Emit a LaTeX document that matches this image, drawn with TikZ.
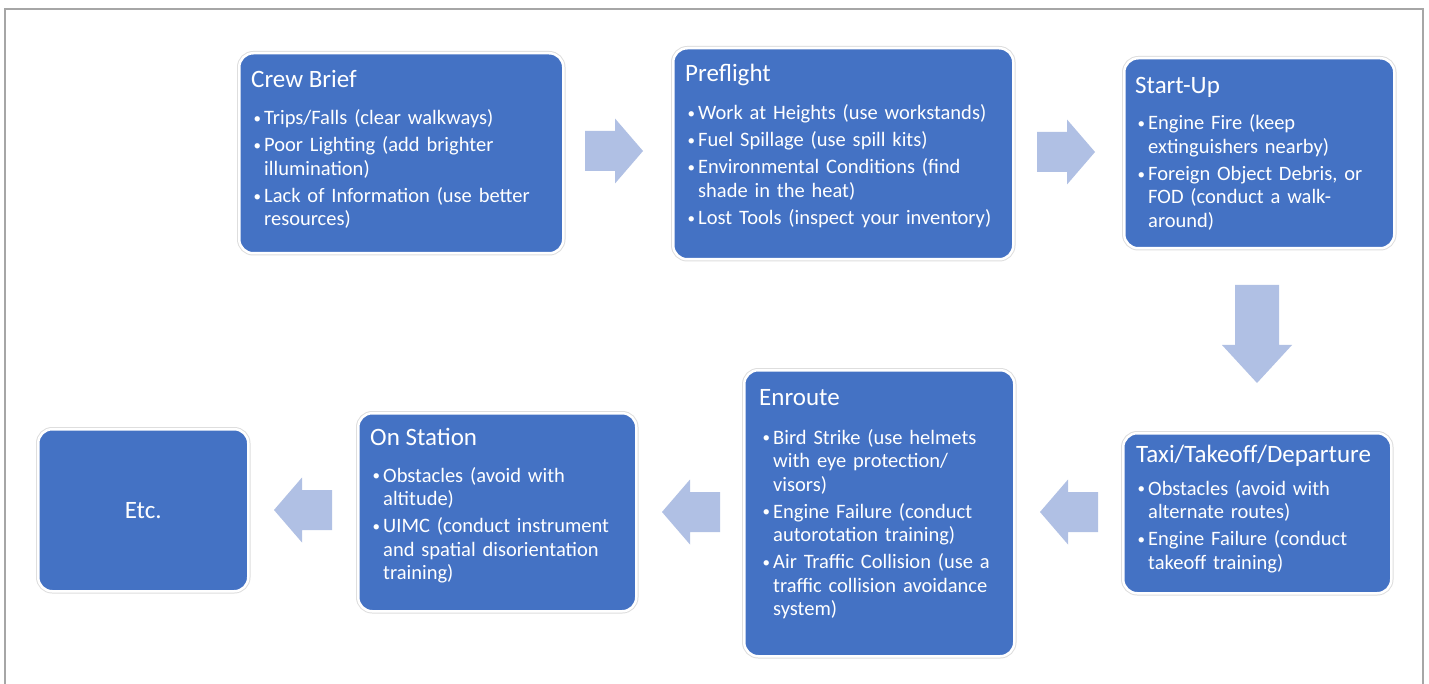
\documentclass[tikz,border=0pt]{standalone}
\usepackage{fontspec}
\setmainfont{Carlito}
\definecolor{boxblue}{HTML}{4472C4}
\definecolor{arrowfill}{HTML}{B0C0E4}
\definecolor{framegray}{HTML}{A6A6A6}
\newcommand\bul{\makebox[11pt][l]{\hspace{0.5pt}\raisebox{1.2pt}{\fontsize{15}{15}\selectfont •}}}
\newcommand\itm[1]{\bul#1}
\newcommand\cnt[1]{\hspace*{11pt}#1}
\begin{document}
\begin{tikzpicture}[x=1pt,y=-1pt,
  box/.style={rounded corners=14pt, fill=boxblue, draw=white, line width=2.5pt,
    preaction={draw=black!13, line width=4.5pt}, inner sep=0pt, anchor=north west},
  ttl/.style={text=white, font=\fontsize{25}{30}\selectfont, anchor=base west, inner sep=0pt},
  body/.style={text=white, font=\fontsize{20.5}{23.5}\selectfont, anchor=base west,
    inner sep=0pt, text width=340pt, align=left},
  blockarrow/.style={fill=arrowfill},
  rarr/.pic={\fill[blockarrow] (-29,-20) -- (1,-20) -- (1,-32.5) -- (29,0) -- (1,32.5) -- (1,20) -- (-29,20) -- cycle;}]
\useasboundingbox (0,0) rectangle (1429,684);
\fill[white] (0,0) rectangle (1429,684);
\draw[framegray, line width=1.5pt] (5,684) -- (5,9) -- (1423,9) -- (1423,684);

% boxes
\node[box, minimum width=324pt, minimum height=200pt] (cb) at (238,52) {};
\node[box, minimum width=340pt, minimum height=211pt] (pf) at (672,47) {};
\node[box, minimum width=270pt, minimum height=190pt] (su) at (1123,57) {};
\node[box, minimum width=268pt, minimum height=160pt] (tx) at (1122,432) {};
\node[box, minimum width=270pt, minimum height=286pt] (en) at (743,369) {};
\node[box, minimum width=278pt, minimum height=198pt] (os) at (357,412) {};
\node[box, minimum width=210pt, minimum height=162pt] (etc) at (37,428) {};

% titles
\node[ttl] (cbt) at (251,88) {Crew Brief};
\node[ttl] (pft) at (685,82) {Preflight};
\node[ttl] (sut) at (1135,94) {Start-Up};
\node[ttl] (txt) at (1136,462) {Taxi/Takeoff/Departure};
\node[ttl] (ent) at (759,405) {Enroute};
\node[ttl] (ost) at (370,445) {On Station};
\node[ttl, anchor=center] (etct) at (etc.center) {Etc.};

% bodies
\node[body] (cbb) at (253,125) {\itm{Trips/Falls (clear walkways)}\\[3.5pt]
  \itm{Poor Lighting (add brighter}\\ \cnt{illumination)}\\[3.5pt]
  \itm{Lack of Information (use better}\\ \cnt{resources)}};
\node[body] (pfb) at (687,120) {\itm{Work at Heights (use workstands)}\\[3.5pt]
  \itm{Fuel Spillage (use spill kits)}\\[3.5pt]
  \itm{Environmental Conditions (find}\\ \cnt{shade in the heat)}\\[3.5pt]
  \itm{Lost Tools (inspect your inventory)}};
\node[body] (sub) at (1137,130) {\itm{Engine Fire (keep}\\ \cnt{extinguishers nearby)}\\[3.5pt]
  \itm{Foreign Object Debris, or}\\ \cnt{FOD (conduct a walk-}\\ \cnt{around)}};
\node[body] (txb) at (1137,495) {\itm{Obstacles (avoid with}\\ \cnt{alternate routes)}\\[3.5pt]
  \itm{Engine Failure (conduct}\\ \cnt{takeoff training)}};
\node[body] (enb) at (762,444) {\itm{Bird Strike (use helmets}\\ \cnt{with eye protection/}\\ \cnt{visors)}\\[3.5pt]
  \itm{Engine Failure (conduct}\\ \cnt{autorotation training)}\\[3.5pt]
  \itm{Air Traffic Collision (use a}\\ \cnt{traffic collision avoidance}\\ \cnt{system)}};
\node[body] (osb) at (372,482) {\itm{Obstacles (avoid with}\\ \cnt{altitude)}\\[3.5pt]
  \itm{UIMC (conduct instrument}\\ \cnt{and spatial disorientation}\\ \cnt{training)}};

% block arrows
\pic at (614,151) {rarr};
\pic at (1066,152) {rarr};
\fill[blockarrow] (1235,285) -- (1279,285) -- (1279,345) -- (1292,345) -- (1257,383) -- (1222,345) -- (1235,345) -- cycle;
\pic[rotate=180] at (1069,512) {rarr};
\pic[rotate=180] at (691,512) {rarr};
\pic[rotate=180] at (303,510) {rarr};
\end{tikzpicture}
\end{document}
